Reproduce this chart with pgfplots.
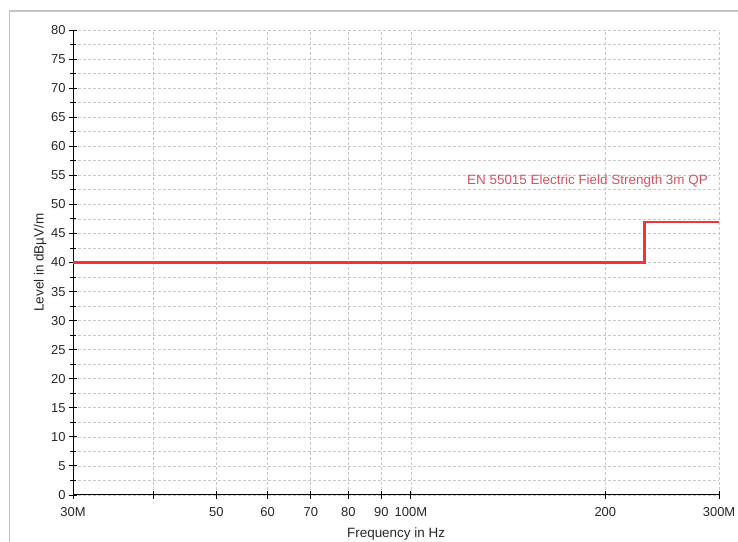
\documentclass[border=0pt]{standalone}
\usepackage{pgfplots}
\pgfplotsset{compat=1.18}
\usepackage{fontspec}
\setmainfont{Liberation Sans}
\definecolor{limitred}{RGB}{242,52,52}
\definecolor{labelred}{RGB}{212,82,92}
\definecolor{gridgray}{RGB}{200,200,200}
\definecolor{framegray}{RGB}{195,195,195}
\begin{document}
\begin{tikzpicture}[x=1bp,y=1bp]
\path[use as bounding box] (0,0) rectangle (738,542);
\draw[framegray, line width=1.5bp] (9.5,0) -- (9.5,531) -- (738,531);
\begin{axis}[
  at={(73bp,47bp)}, anchor=south west,
  scale only axis, width=646bp, height=465bp,
  xmode=log, log basis x=10,
  xmin=30e6, xmax=300e6, ymin=0, ymax=80,
  axis x line*=bottom, axis y line*=left,
  axis line style={-, black, line width=1bp},
  xtick={30e6,40e6,50e6,60e6,70e6,80e6,90e6,100e6,200e6,300e6},
  xticklabels={30M,,50,60,70,80,90,100M,200,300M},
  minor xtick={},
  ytick={0,5,...,80},
  minor ytick={2.5,7.5,...,77.5},
  tick align=center,
  major tick length=8bp, minor tick length=6bp,
  tick style={black, line width=0.9bp},
  grid=both,
  major grid style={gridgray, dash pattern=on 3bp off 2bp, line width=0.7bp},
  minor grid style={gridgray, dash pattern=on 3bp off 2bp, line width=0.7bp},
  xtick pos=bottom, ytick pos=left,
  ticklabel style={font=\fontsize{13}{15}\selectfont, text=black!85},
  /pgf/number format/assume math mode=true,
  yticklabel style={xshift=0bp},
  xticklabel style={yshift=-5bp},
  xlabel={Frequency in Hz},
  ylabel={Level in dB\textmu V/m},
  label style={font=\fontsize{13.5}{15}\selectfont, text=black!85},
  xlabel style={at={(axis description cs:0.5,-0.0835)}, anchor=center},
  ylabel style={at={(axis description cs:-0.0511,0.5)}, anchor=center},
  clip=false,
]
\addplot[limitred, line width=2.2bp, const plot] coordinates {
  (30e6,40) (230e6,47) (300e6,47)
};
\end{axis}
\node[anchor=center, text=labelred, font=\fontsize{13.5}{15}\selectfont] at (587.5,361) {EN 55015 Electric Field Strength 3m QP};
\end{tikzpicture}
\end{document}
